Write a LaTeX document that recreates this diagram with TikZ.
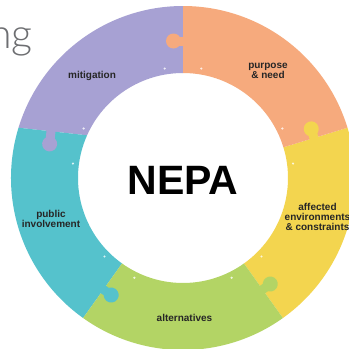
\documentclass[tikz,border=0pt]{standalone}
\usepackage{fontspec}
\setmainfont{Liberation Sans}
\newfontfamily\lightfont{Lato Light}
\definecolor{nepapurple}{HTML}{A7A1D3}
\definecolor{nepaorange}{HTML}{F6AA7D}
\definecolor{nepayellow}{HTML}{F3D54F}
\definecolor{nepagreen}{HTML}{B3D465}
\definecolor{nepateal}{HTML}{55C2CC}
\definecolor{nepagray}{HTML}{6D6E71}

\begin{document}
\begin{tikzpicture}[x=1pt, y=1pt,
    piece/.style={font=\fontsize{10}{10}\selectfont\bfseries, text=black!85, align=center, inner sep=0pt}]
  \clip (-183,-171) rectangle (166,178);
  \fill[white] (-183,-171) rectangle (166,178);
  % ring pieces
  \fill[nepayellow] (-54.5:172) arc[start angle=-54.5, end angle=17, radius=172] -- (17:105) arc[start angle=17, end angle=-54.5, radius=105] -- cycle;
  \fill[nepaorange] (17:172) arc[start angle=17, end angle=90, radius=172] -- (90:105) arc[start angle=90, end angle=17, radius=105] -- cycle;
  \fill[nepapurple] (90:172) arc[start angle=90, end angle=163, radius=172] -- (156:105) arc[start angle=156, end angle=90, radius=105] -- cycle;
  \fill[nepateal] (163:172) arc[start angle=163, end angle=234.5, radius=172] -- (234.5:105) arc[start angle=234.5, end angle=156, radius=105] -- cycle;
  \fill[nepagreen] (234.5:172) arc[start angle=234.5, end angle=305.5, radius=172] -- (305.5:105) arc[start angle=305.5, end angle=234.5, radius=105] -- cycle;
  % knobs
  \foreach \a/\c in {90/nepaorange, 17/nepayellow, -54.5/nepagreen, -125.5/nepateal} {
    \fill[\c, shift={(\a:137)}, rotate=\a] (-4.5,-1) rectangle (4.5,9);
    \fill[\c, shift={(\a:137)}, rotate=\a] (0,9.5) circle[radius=7.5];
  }
  \fill[nepapurple, shift={(-132,46.5)}, rotate=173.7] (-4.5,-1) rectangle (4.5,12);
  \fill[nepapurple, shift={(-132,46.5)}, rotate=173.7] (0,12.5) circle[radius=7.5];
  % small dots
  \foreach \a in {90,17,-54.5,-125.5,163} {
    \fill[white, opacity=0.8] ({\a+9.5}:111) circle[radius=1.2];
    \fill[white, opacity=0.8] ({\a-9.5}:111) circle[radius=1.2];
  }
  % labels
  \node[piece] (mitigation) at (-91,102) {mitigation};
  \node[piece] (purpose) at (85,107.5) {purpose\\\& need};
  \node[piece] (affected) at (134.5,-39) {affected\\environments\\\& constraints};
  \node[piece] (alternatives) at (1.5,-140) {alternatives};
  \node[piece] (public) at (-132,-41) {public\\involvement};
  \node[font=\fontsize{41}{41}\selectfont\bfseries, inner sep=0pt] (nepa) at (0,-2) {NEPA};
  \node[font=\lightfont\fontsize{41}{41}\selectfont, text=nepagray, anchor=base east, inner sep=0pt] (ing) at (-150,130) {ng};
\end{tikzpicture}
\end{document}
